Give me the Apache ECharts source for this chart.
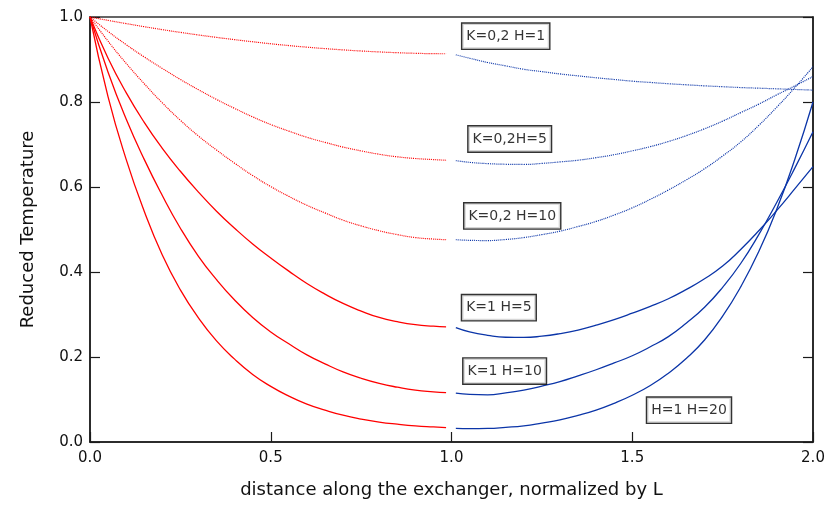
<!DOCTYPE html>
<html><head><meta charset="utf-8">
<script src="https://cdn.jsdelivr.net/npm/echarts@6/dist/echarts.min.js"></script>
<style>html,body{margin:0;padding:0;background:#fff}#c{width:830px;height:508px}</style>
</head><body><div id="c"></div><script>
// x positions (distance / L)
const redX  = [0, 0.05, 0.1, 0.15, 0.2, 0.25, 0.3, 0.35, 0.4, 0.45, 0.5, 0.55, 0.6, 0.65, 0.7, 0.75, 0.8, 0.85, 0.9, 0.95, 0.985];
const blueX = [1.012, 1.05, 1.1, 1.15, 1.2, 1.25, 1.3, 1.35, 1.4, 1.45, 1.5, 1.55, 1.6, 1.65, 1.7, 1.75, 1.8, 1.85, 1.9, 1.95, 2.0];

// first half (red)
const redK02H1  = [1, 0.992, 0.9845, 0.9772, 0.9703, 0.9638, 0.9577, 0.952, 0.9467, 0.9417, 0.937, 0.9328, 0.929, 0.9256, 0.9226, 0.92, 0.9178, 0.916, 0.9146, 0.9137, 0.9135];
const redK02H5  = [1, 0.966, 0.935, 0.906, 0.879, 0.853, 0.829, 0.806, 0.785, 0.765, 0.747, 0.7315, 0.717, 0.705, 0.694, 0.685, 0.677, 0.671, 0.667, 0.6645, 0.663];
const redK02H10 = [1, 0.943, 0.891, 0.843, 0.798, 0.757, 0.72, 0.687, 0.656, 0.627, 0.601, 0.578, 0.557, 0.539, 0.522, 0.5085, 0.497, 0.488, 0.481, 0.4775, 0.476];
const redK1H5   = [1, 0.903, 0.822, 0.752, 0.691, 0.637, 0.588, 0.543, 0.503, 0.466, 0.433, 0.402, 0.373, 0.348, 0.326, 0.308, 0.293, 0.283, 0.276, 0.2725, 0.271];
const redK1H10  = [1, 0.87, 0.76, 0.665, 0.58, 0.503, 0.437, 0.382, 0.334, 0.293, 0.259, 0.231, 0.205, 0.184, 0.165, 0.15, 0.138, 0.129, 0.122, 0.118, 0.116];
const redK1H20  = [1, 0.812, 0.665, 0.543, 0.44, 0.358, 0.292, 0.238, 0.195, 0.159, 0.131, 0.108, 0.089, 0.075, 0.063, 0.054, 0.047, 0.042, 0.038, 0.0355, 0.034];

// second half (blue)
const blueK02H1  = [0.911, 0.903, 0.893, 0.885, 0.877, 0.8715, 0.866, 0.8615, 0.857, 0.853, 0.849, 0.846, 0.843, 0.8405, 0.838, 0.836, 0.834, 0.8325, 0.831, 0.8295, 0.828];
const blueK02H5  = [0.662, 0.658, 0.655, 0.6535, 0.653, 0.6555, 0.659, 0.663, 0.669, 0.676, 0.685, 0.695, 0.707, 0.721, 0.737, 0.755, 0.775, 0.795, 0.817, 0.838, 0.86];
const blueK02H10 = [0.476, 0.4745, 0.474, 0.4765, 0.481, 0.488, 0.496, 0.507, 0.519, 0.534, 0.551, 0.571, 0.593, 0.617, 0.643, 0.673, 0.706, 0.745, 0.788, 0.834, 0.883];
const blueK1H5   = [0.269, 0.259, 0.251, 0.2465, 0.246, 0.249, 0.255, 0.2635, 0.275, 0.288, 0.303, 0.319, 0.337, 0.359, 0.384, 0.414, 0.453, 0.497, 0.545, 0.596, 0.648];
const blueK1H10  = [0.115, 0.112, 0.111, 0.1155, 0.122, 0.1315, 0.142, 0.1555, 0.17, 0.186, 0.203, 0.224, 0.248, 0.28, 0.317, 0.364, 0.42, 0.488, 0.564, 0.645, 0.73];
const blueK1H20  = [0.032, 0.0315, 0.032, 0.0345, 0.038, 0.0445, 0.052, 0.0625, 0.075, 0.091, 0.11, 0.133, 0.162, 0.197, 0.24, 0.296, 0.365, 0.448, 0.548, 0.666, 0.80];

// annotation boxes (text, data x, data y)
const annoText = ['K=0,2 H=1', 'K=0,2H=5', 'K=0,2 H=10', 'K=1 H=5', 'K=1 H=10', 'H=1 H=20'];
const annoX    = [1.150, 1.161, 1.168, 1.131, 1.147, 1.657];
const annoY    = [0.955, 0.713, 0.532, 0.316, 0.167, 0.075];

const FONT = 'DejaVu Sans';
const RED = '#ff0000', BLUE = '#0b35a8';
const pairs = (xs, ys) => xs.map((x, i) => [x, ys[i]]);
function line(xs, ys, color, dotted) {
  return {
    type: 'line', data: pairs(xs, ys), symbol: 'none', smooth: 0.5, silent: true,
    lineStyle: { color: color, width: dotted ? 1.2 : 1.3, type: dotted ? [1, 1] : 'solid' }
  };
}
const axisCol = '#1a1a1a';
const chart = echarts.init(document.getElementById('c'), null, { renderer: 'canvas' });
chart.setOption({
  animation: false,
  backgroundColor: '#fff',
  grid: { left: 90, right: 17, top: 17, bottom: 66, show: true, borderColor: '#333', borderWidth: 1.5, backgroundColor: 'transparent' },
  xAxis: {
    type: 'value', min: 0, max: 2, interval: 0.5,
    name: 'distance along the exchanger, normalized by L', nameLocation: 'middle', nameGap: 39,
    nameTextStyle: { fontFamily: FONT, fontSize: 18, color: '#111' },
    axisLine: { lineStyle: { color: axisCol, width: 1.5 } },
    axisTick: { inside: true, length: 10, lineStyle: { color: axisCol, width: 1.2 } },
    axisLabel: { fontFamily: FONT, fontSize: 15, color: '#111', margin: 9, formatter: v => v.toFixed(1) },
    splitLine: { show: false }
  },
  yAxis: [{
    type: 'value', min: 0, max: 1, interval: 0.2,
    name: 'Reduced Temperature', nameLocation: 'middle', nameGap: 53,
    nameTextStyle: { fontFamily: FONT, fontSize: 18, color: '#111' },
    axisLine: { show: true, lineStyle: { color: axisCol, width: 1.5 } },
    axisTick: { show: true, inside: true, length: 10, lineStyle: { color: axisCol, width: 1.2 } },
    axisLabel: { fontFamily: FONT, fontSize: 15, color: '#111', margin: 7, formatter: v => v.toFixed(1) },
    splitLine: { show: false }
  }, {
    type: 'value', min: 0, max: 1, interval: 0.2, position: 'right',
    axisLine: { show: true, lineStyle: { color: axisCol, width: 1.5 } },
    axisTick: { show: true, inside: true, length: 10, lineStyle: { color: axisCol, width: 1.2 } },
    axisLabel: { show: false }, splitLine: { show: false }
  }],
  series: [
    line(redX, redK02H1, RED, true),
    line(redX, redK02H5, RED, true),
    line(redX, redK02H10, RED, true),
    line(redX, redK1H5, RED, false),
    line(redX, redK1H10, RED, false),
    line(redX, redK1H20, RED, false),
    line(blueX, blueK02H1, BLUE, true),
    line(blueX, blueK02H5, BLUE, true),
    line(blueX, blueK02H10, BLUE, true),
    line(blueX, blueK1H5, BLUE, false),
    line(blueX, blueK1H10, BLUE, false),
    line(blueX, blueK1H20, BLUE, false),
    {
      type: 'scatter', symbolSize: 0, silent: true, z: 10,
      data: annoText.map((t, i) => ({ name: t, value: [annoX[i], annoY[i]] })),
      label: {
        show: true, position: 'inside', formatter: '{b}',
        fontFamily: FONT, fontSize: 14, color: '#000', lineHeight: 17,
        backgroundColor: '#fff', borderColor: '#000', borderWidth: 1.4, padding: [4, 4, 4, 4]
      }
    }
  ]
});
</script></body></html>
